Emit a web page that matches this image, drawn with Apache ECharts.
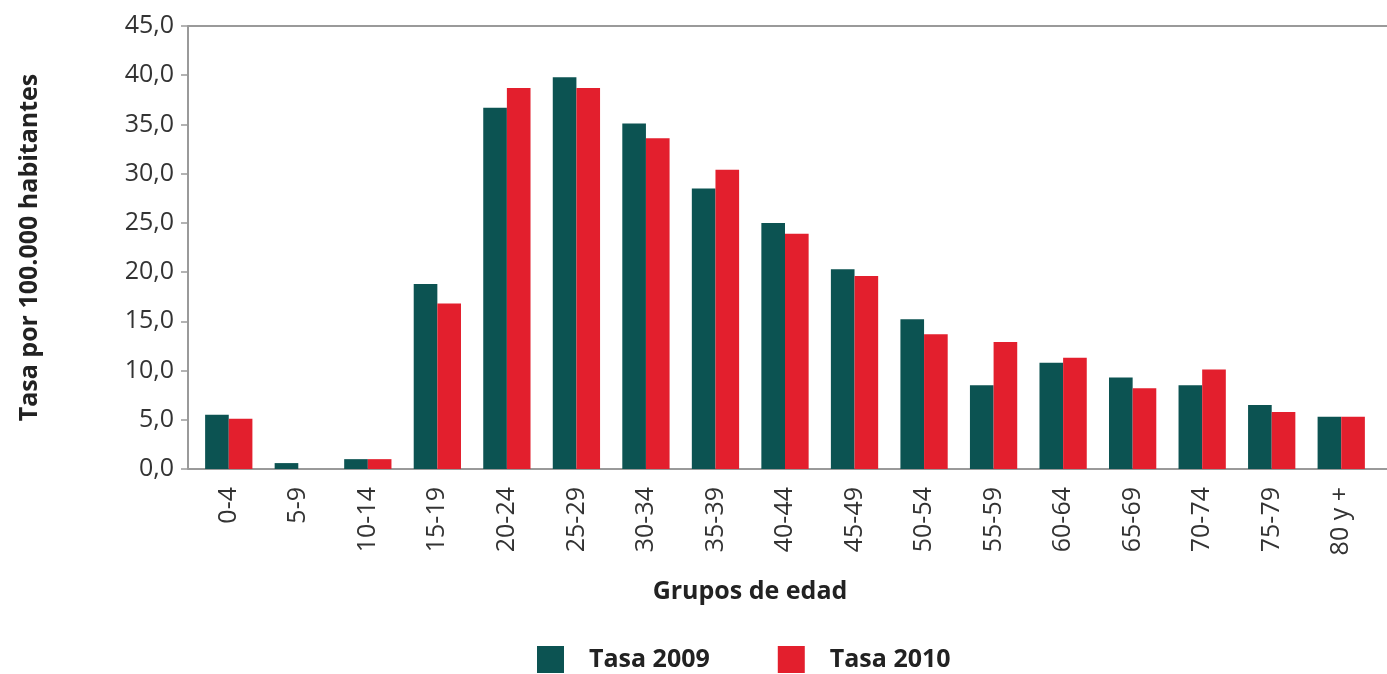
<!DOCTYPE html>
<html>
<head>
<meta charset="utf-8">
<script src="https://cdn.jsdelivr.net/npm/echarts@6/dist/echarts.min.js"></script>
<style>
  html, body { margin: 0; padding: 0; background: #fff; }
  #chart { width: 1387px; height: 674px; }
</style>
</head>
<body>
<div id="chart"></div>
<script>
// Grupos de edad
const categories = ['0-4', '5-9', '10-14', '15-19', '20-24', '25-29', '30-34', '35-39',
  '40-44', '45-49', '50-54', '55-59', '60-64', '65-69', '70-74', '75-79', '80 y +'];
// Tasa por 100.000 habitantes
const tasa2009 = [5.5, 0.6, 1.0, 18.8, 36.7, 39.8, 35.1, 28.5, 25.0, 20.3, 15.2, 8.5, 10.8, 9.3, 8.5, 6.5, 5.3];
const tasa2010 = [5.1, 0, 1.0, 16.8, 38.7, 38.7, 33.6, 30.4, 23.9, 19.6, 13.7, 12.9, 11.3, 8.2, 10.1, 5.8, 5.3];
const yTicks = { min: 0, max: 45, interval: 5 };

const COLOR_2009 = '#0c5352';
const COLOR_2010 = '#e31f2d';
const AXIS_GRAY = '#9a9a9a';
const FONT = '"Open Sans", "Noto Sans", sans-serif';

const GRID = { left: 194, right: 11, top: 26, bottom: 205 };
const Y_AXIS_OFFSET = 6; // value axis sits a little left of the first category

const chart = echarts.init(document.getElementById('chart'), null, { renderer: 'canvas' });

chart.setOption({
  animation: false,
  backgroundColor: '#fff',
  grid: GRID,
  legend: {
    left: 537,
    top: 646,
    padding: 0,
    itemWidth: 27,
    itemHeight: 27,
    itemGap: 68,
    icon: 'rect',
    textStyle: { fontFamily: FONT, fontSize: 25, fontWeight: 'bold', color: '#222', padding: [0, 0, 0, 20] },
    data: ['Tasa 2009', 'Tasa 2010']
  },
  xAxis: {
    type: 'category',
    data: categories,
    name: 'Grupos de edad',
    nameLocation: 'middle',
    nameGap: 110,
    nameTextStyle: { fontFamily: FONT, fontSize: 25, fontWeight: 'bold', color: '#222', padding: [0, 70, 0, 0] },
    axisLine: { lineStyle: { color: AXIS_GRAY, width: 2 } },
    axisTick: { inside: true, length: 7, alignWithLabel: false, lineStyle: { color: AXIS_GRAY, width: 1.5 } },
    axisLabel: {
      rotate: 90,
      margin: 18,
      fontFamily: FONT,
      fontSize: 25,
      color: '#333'
    }
  },
  yAxis: {
    type: 'value',
    min: yTicks.min,
    max: yTicks.max,
    interval: yTicks.interval,
    offset: Y_AXIS_OFFSET,
    name: 'Tasa por 100.000 habitantes',
    nameLocation: 'middle',
    nameGap: 146,
    nameRotate: 90,
    nameTextStyle: { fontFamily: FONT, fontSize: 25, fontWeight: 'bold', color: '#222' },
    axisLine: { show: true, lineStyle: { color: AXIS_GRAY, width: 2 } },
    axisTick: { show: true, length: 7, lineStyle: { color: AXIS_GRAY, width: 1.5 } },
    splitLine: { show: false },
    axisLabel: {
      margin: 14,
      fontFamily: FONT,
      fontSize: 25,
      color: '#333',
      formatter: v => v.toFixed(1).replace('.', ',')
    }
  },
  graphic: [
    // frame top line, from the value axis to the right edge
    { type: 'line', shape: { x1: GRID.left - Y_AXIS_OFFSET, y1: GRID.top, x2: 1387, y2: GRID.top },
      style: { stroke: AXIS_GRAY, lineWidth: 2 } },
    // baseline continued on both sides of the category axis
    { type: 'line', shape: { x1: GRID.left - Y_AXIS_OFFSET, y1: 674 - GRID.bottom, x2: GRID.left, y2: 674 - GRID.bottom },
      style: { stroke: AXIS_GRAY, lineWidth: 2 } },
    { type: 'line', shape: { x1: 1387 - GRID.right - 1, y1: 674 - GRID.bottom, x2: 1387, y2: 674 - GRID.bottom },
      style: { stroke: AXIS_GRAY, lineWidth: 2 } }
  ],
  series: [
    {
      name: 'Tasa 2009',
      type: 'bar',
      data: tasa2009,
      barGap: '0%',
      barCategoryGap: '32%',
      itemStyle: { color: COLOR_2009 }
    },
    {
      name: 'Tasa 2010',
      type: 'bar',
      data: tasa2010,
      itemStyle: { color: COLOR_2010 }
    }
  ]
});
</script>
</body>
</html>
